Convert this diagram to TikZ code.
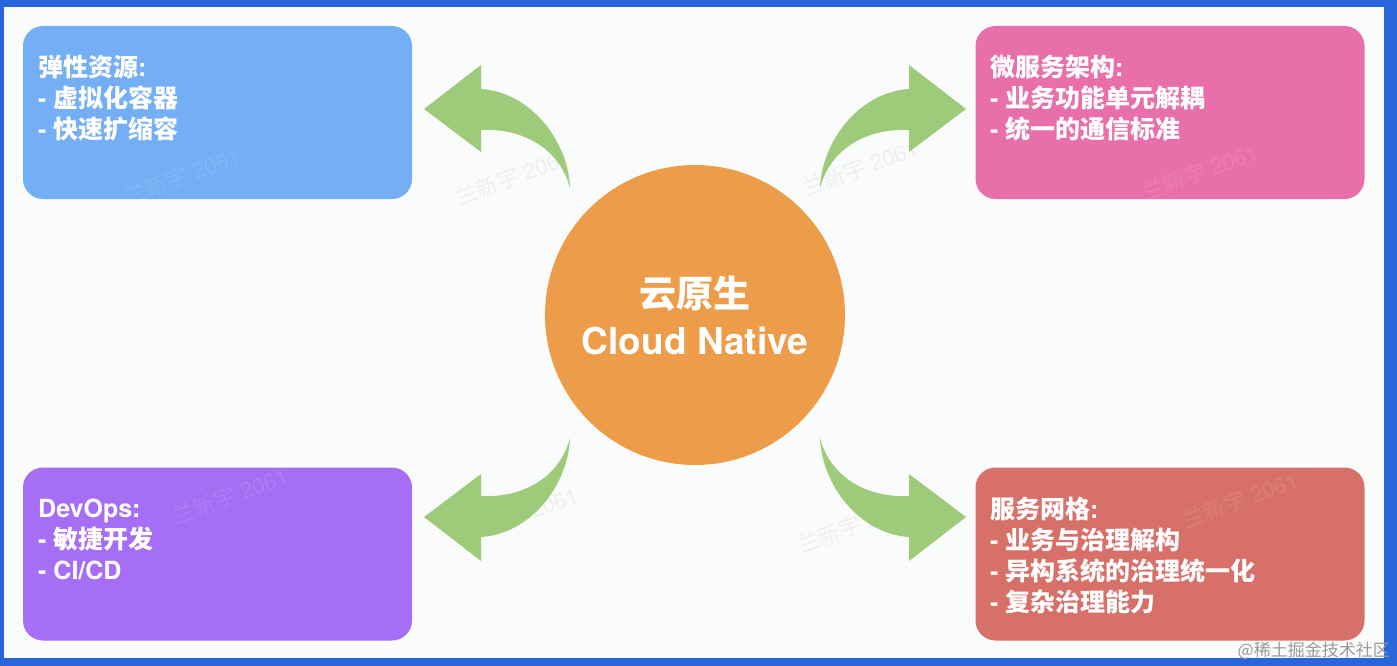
\documentclass[tikz,border=0pt]{standalone}
\usepackage{fontspec}
\setmainfont{TeX Gyre Heros}
\newfontfamily\cjk{Noto Sans CJK SC}
\definecolor{framecol}{HTML}{2A66DB}
\definecolor{bgcol}{HTML}{FAFCFC}
\definecolor{bluebox}{HTML}{74AEF4}
\definecolor{pinkbox}{HTML}{E96FAB}
\definecolor{purplebox}{HTML}{A56EF4}
\definecolor{redbox}{HTML}{D8706A}
\definecolor{orangecol}{HTML}{ED9D49}
\definecolor{arrowgreen}{HTML}{9DCB7A}
\definecolor{wmgray}{HTML}{9A9A9A}
\tikzset{
  box/.style={rounded corners=20pt, minimum width=389pt, minimum height=173pt, inner sep=0pt, draw=none},
  boxtext/.style={anchor=west, align=left, text=white, inner sep=0pt, font=\bfseries\fontsize{25}{31}\selectfont},
  centertext/.style={text=white, inner sep=0pt, font=\bfseries\fontsize{37}{37}\selectfont},
  faintmark/.style={rotate=20, text=black, text opacity=0.05, inner sep=0pt, font=\fontsize{22}{22}\selectfont},
  faintmarkw/.style={rotate=20, text=white, text opacity=0.10, inner sep=0pt, font=\fontsize{22}{22}\selectfont},
  curvearrow/.pic={
    \fill[arrowgreen] (-271,-204) -- (-214,-248) -- (-214,-224)
      .. controls (-165,-221) and (-127,-173) .. (-125,-125)
      .. controls (-135,-163) and (-170,-185) .. (-214,-183)
      -- (-214,-161) -- cycle;
  }
}
\begin{document}
\begin{tikzpicture}[x=1pt,y=-1pt]
\useasboundingbox (0,0) rectangle (1397,666);
\fill[framecol] (0,0) rectangle (1397,666);
\fill[bgcol] (4,7) rectangle (1384,658);

% boxes
\node[box, fill=bluebox] (elastic) at (217.5,112.5) {};
\node[box, fill=pinkbox] (micro) at (1170,112.5) {};
\node[box, fill=purplebox] (devops) at (217.5,554) {};
\node[box, fill=redbox] (mesh) at (1170,554) {};

% faint watermarks
\node[faintmarkw] (w1) at (182,176) {{\cjk 兰新宇} 2061};
\node[faintmark] (w2) at (513,177) {{\cjk 兰新宇} 2061};
\node[faintmark] (w3) at (860,168) {{\cjk 兰新宇} 2061};
\node[faintmarkw] (w4) at (1200,172) {{\cjk 兰新宇} 2061};
\node[faintmarkw] (w5) at (230,496) {{\cjk 兰新宇} 2061};
\node[faintmark] (w6) at (520,515) {{\cjk 兰新宇} 2061};
\node[faintmark] (w7) at (855,525) {{\cjk 兰新宇} 2061};
\node[faintmarkw] (w8) at (1240,500) {{\cjk 兰新宇} 2061};

% box texts
\node[boxtext] (elastict) at (38,98.5) {{\cjk 弹性资源}:\\- {\cjk 虚拟化容器}\\- {\cjk 快速扩缩容}};
\node[boxtext] (microt) at (990,98.5) {{\cjk 微服务架构}:\\- {\cjk 业务功能单元解耦}\\- {\cjk 统一的通信标准}};
\node[boxtext] (devopst) at (38,539) {DevOps:\\- {\cjk 敏捷开发}\\- CI/CD};
\node[boxtext] (mesht) at (990,556) {{\cjk 服务网格}:\\- {\cjk 业务与治理解构}\\- {\cjk 异构系统的治理统一化}\\- {\cjk 复杂治理能力}};

% center circle
\node[circle, fill=orangecol, minimum size=300pt, inner sep=0pt] (cloud) at (695,315) {};
\node[centertext] (cloudcn) at (695,294) {\cjk 云原生};
\node[centertext] (clouden) at (695,341) {Cloud Native};

% curved arrows
\pic (a1) at (695,313) {curvearrow};
\pic[xscale=-1] (a2) at (695,313) {curvearrow};
\pic[yscale=-1] (a3) at (695,313) {curvearrow};
\pic[xscale=-1,yscale=-1] (a4) at (695,313) {curvearrow};

% source mark
\node[anchor=east, text=wmgray, inner sep=0pt, font=\cjk\fontsize{17}{17}\selectfont] (juejin) at (1390,651) {@稀土掘金技术社区};
\end{tikzpicture}
\end{document}
